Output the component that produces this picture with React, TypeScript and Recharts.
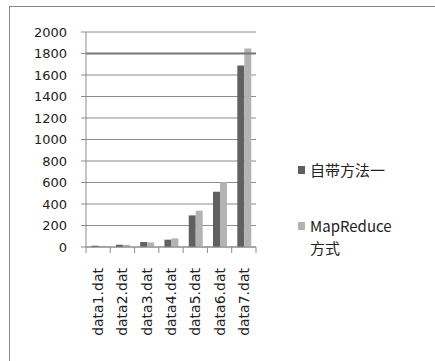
import { BarChart, Bar, XAxis, YAxis, CartesianGrid, ReferenceLine } from "recharts";

const files = ["data1.dat", "data2.dat", "data3.dat", "data4.dat", "data5.dat", "data6.dat", "data7.dat"];
const builtin = [12, 21, 46, 68, 294, 514, 1689];
const mapReduce = [10, 20, 43, 80, 338, 604, 1847];
const yTicks = [0, 200, 400, 600, 800, 1000, 1200, 1400, 1600, 1800, 2000];

const data = files.map((name, i) => ({ name, builtin: builtin[i], mapReduce: mapReduce[i] }));

const DARK = "#606060";
const LIGHT = "#b3b3b3";
const GRID = "#8c8c8c";
const STEP = 170 / files.length;

// category boundary ticks plus rotated file names
function FileTick(props: any) {
  const { x, y, payload, index } = props;
  return (
    <g>
      <line x1={x - STEP / 2} y1={y} x2={x - STEP / 2} y2={y + 6} stroke={GRID} />
      {index === files.length - 1 && (
        <line x1={x + STEP / 2} y1={y} x2={x + STEP / 2} y2={y + 6} stroke={GRID} />
      )}
      <text
        x={x + 5}
        y={y + 21}
        transform={`rotate(-90 ${x + 5} ${y + 21})`}
        textAnchor="end"
        fontSize={14}
        fill="#222"
        fontFamily="DejaVu Sans"
      >
        {payload.value}
      </text>
    </g>
  );
}

function LegendBox() {
  const sq = (c: string) => (
    <span style={{ display: "inline-block", width: 7, height: 8, background: c, marginRight: 5, verticalAlign: "middle", position: "relative", top: -2 }} />
  );
  return (
    <div style={{ position: "absolute", left: 298, top: 159, width: 120, fontFamily: "'Noto Sans CJK SC', 'DejaVu Sans'", fontSize: 15, color: "#222", lineHeight: "22px" }}>
      <div>{sq(DARK)}自带方法一</div>
      <div style={{ marginTop: 34 }}>
        {sq(LIGHT)}MapReduce
        <br />
        <span style={{ paddingLeft: 12 }}>方式</span>
      </div>
    </div>
  );
}

export default function App() {
  return (
    <div style={{ position: "fixed", left: 0, top: 0, width: 435, height: 361, overflow: "hidden", background: "#fff" }}>
      <div style={{ position: "absolute", left: 9, top: 6, width: 460, height: 400, border: "1px solid #8a8a8a" }} />
      <div style={{ position: "absolute", left: 0, top: 0 }}>
        <BarChart
          width={435}
          height={361}
          data={data}
          margin={{ top: 32, right: 179, left: 0, bottom: 14 }}
          barCategoryGap="23%"
          barGap={0}
        >
          <CartesianGrid vertical={false} stroke={GRID} />
          <XAxis
            dataKey="name"
            height={100}
            interval={0}
            tickLine={false}
            tickSize={0}
            tickMargin={0}
            stroke={GRID}
            tick={<FileTick />}
          />
          <YAxis
            width={86}
            domain={[0, 2000]}
            ticks={yTicks}
            interval={0}
            tickSize={5}
            tickMargin={14}
            stroke={GRID}
            tick={{ fill: "#222", fontSize: 13, fontFamily: "DejaVu Sans" }}
          />
          <ReferenceLine y={1800} stroke="#777" strokeWidth={2} />
          <Bar dataKey="builtin" name="自带方法一" fill={DARK} isAnimationActive={false} />
          <Bar dataKey="mapReduce" name="MapReduce方式" fill={LIGHT} isAnimationActive={false} />
        </BarChart>
      </div>
      <LegendBox />
    </div>
  );
}
